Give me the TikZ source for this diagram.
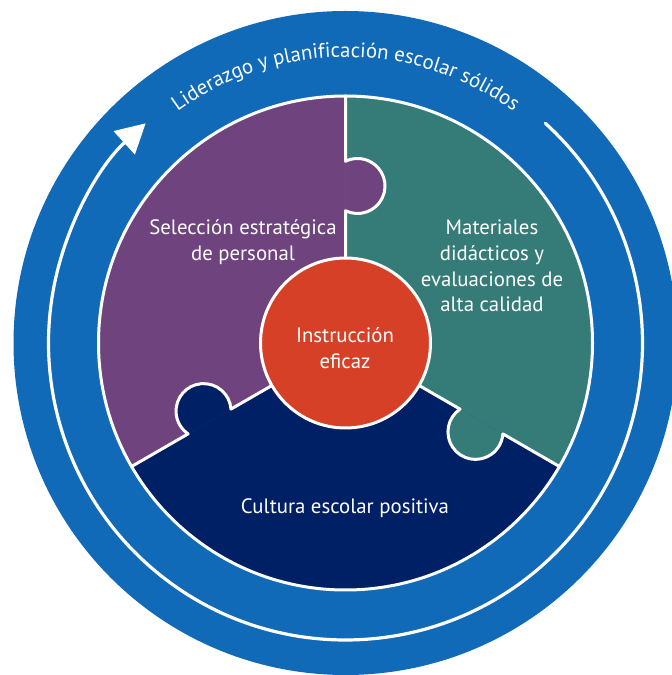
\documentclass[tikz,border=0pt]{standalone}
\usepackage{fontspec}
\setmainfont{PT Sans}
\usetikzlibrary{arrows.meta,calc,decorations.text}
\definecolor{ringblue}{HTML}{106AB8}
\definecolor{piecepurple}{HTML}{6F437E}
\definecolor{pieceteal}{HTML}{357C78}
\definecolor{piecenavy}{HTML}{002066}
\definecolor{corered}{HTML}{D64027}
\newcommand\dlabelfont{\fontsize{20.8}{25.7}\selectfont}
\begin{document}
\begin{tikzpicture}[
  txt/.style={text=white, font=\dlabelfont, align=center, anchor=base, inner sep=0pt},
  divider/.style={draw=white, line width=3pt, line join=round},
  ringline/.style={draw=white, line width=3.2pt, line cap=round},
]
\useasboundingbox (0,0) rectangle (672pt,675pt);
\clip (0,0) rectangle (672pt,675pt);
\coordinate (C) at (345.5pt,332pt);
% outer blue disc
\fill[ringblue] (C) circle[radius=332pt];
% white ring with arrow
\draw[ringline, -{Triangle[length=29pt,width=31pt]}] ($(C)+(47.7:297pt)$) arc[start angle=47.7, end angle=-227.7, radius=297pt];
% curved title
\path[decorate, decoration={text along path, text align=center, text color=white,
  text={|\dlabelfont|Liderazgo y planificación escolar sólidos}}]
  ($(C)+(130:286pt)$) arc[start angle=130, end angle=50, radius=286pt];
% wedges
\fill[piecepurple] (C) -- ++(90:247pt) arc[start angle=90,end angle=210,radius=247pt] -- cycle;
\fill[piecenavy] (C) -- ++(210:247pt) arc[start angle=210,end angle=330,radius=247pt] -- cycle;
\fill[pieceteal] (C) -- ++(330:247pt) arc[start angle=330,end angle=450,radius=247pt] -- cycle;
% knobs and dividers
\foreach \a/\c in {90/piecepurple,210/piecenavy,330/pieceteal}{
  \begin{scope}[shift={(C)},rotate=\a]
    \fill[\c] (132.26pt,0pt) arc[start angle=154.1,end angle=385.9,radius=27.5pt] -- cycle;
    \draw[divider] (0pt,0pt) -- (132.26pt,0pt) arc[start angle=154.1,end angle=385.9,radius=27.5pt] -- (247pt,0pt);
  \end{scope}
}
\draw[white, line width=3pt] (C) circle[radius=247pt];
% centre
\node[circle, fill=corered, draw=white, line width=3pt, minimum size=170pt, inner sep=0pt] (core) at (C) {};
% labels (anchor=base is the baseline of the last line)
\node[txt] (sel) at (243pt,414.4pt) {Selección estratégica\\de personal};
\node[txt] (mat) at (492pt,363pt) {Materiales\\didácticos y\\evaluaciones de\\alta calidad};
\node[txt] (ins) at (345pt,306.4pt) {Instrucción\\eficaz};
\node[txt] (cul) at (345pt,161.5pt) {Cultura escolar positiva};
\end{tikzpicture}
\end{document}
